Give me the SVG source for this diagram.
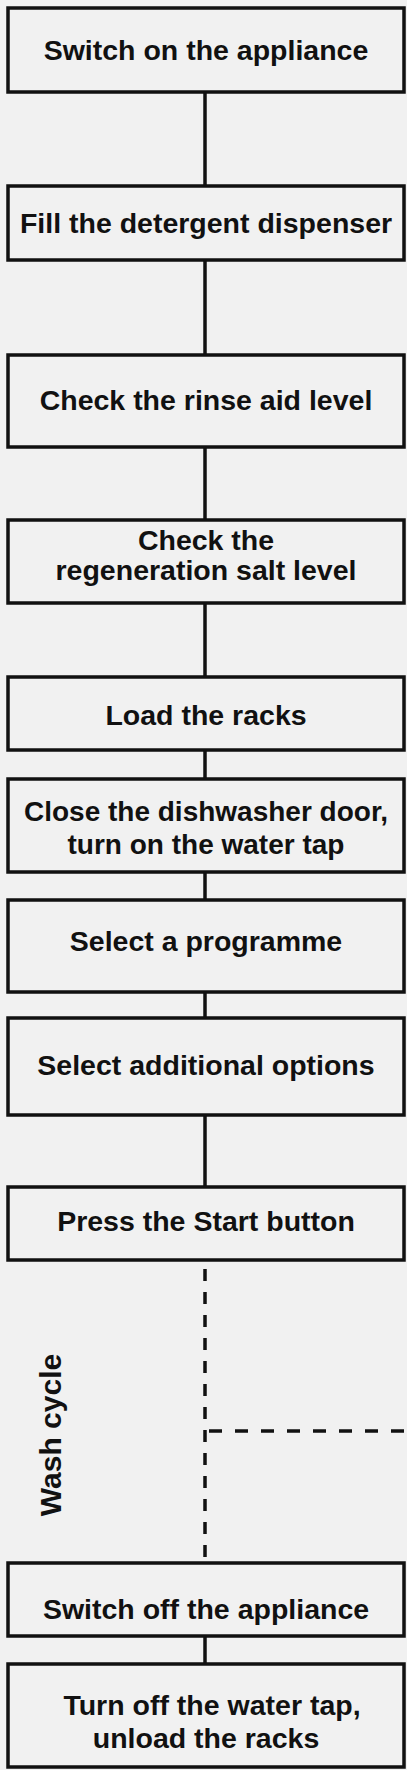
<svg xmlns="http://www.w3.org/2000/svg" width="407" height="1770" viewBox="0 0 407 1770">
<style>
.bg{fill:#f1f1f1}
.box{fill:#f1f1f1;stroke:#111;stroke-width:3.5}
.t{font-family:"Liberation Sans",Arial,sans-serif;font-weight:bold;font-size:28.5px;fill:#111;text-anchor:middle}
.c{stroke:#111;stroke-width:3.5;fill:none}
.d{stroke:#111;stroke-width:3.5;fill:none;stroke-dasharray:12 11}
</style>
<rect class="bg" x="0" y="0" width="407" height="1770"/>
<g id="connectors">
<line class="c" x1="205" y1="92" x2="205" y2="186"/>
<line class="c" x1="205" y1="260" x2="205" y2="355"/>
<line class="c" x1="205" y1="447" x2="205" y2="520"/>
<line class="c" x1="205" y1="603" x2="205" y2="677"/>
<line class="c" x1="205" y1="750" x2="205" y2="779"/>
<line class="c" x1="205" y1="872" x2="205" y2="900"/>
<line class="c" x1="205" y1="992" x2="205" y2="1018"/>
<line class="c" x1="205" y1="1115" x2="205" y2="1187"/>
<line class="d" x1="205" y1="1260" x2="205" y2="1562" stroke-dashoffset="14"/>
<line class="d" x1="205" y1="1431" x2="407" y2="1431" style="stroke-dasharray:13 13" stroke-dashoffset="-4"/>
<line class="c" x1="205" y1="1636" x2="205" y2="1664"/>
</g>
<g id="n1"><rect class="box" x="8" y="8" width="396" height="84"/><text class="t" x="206" y="60">Switch on the appliance</text></g>
<g id="n2"><rect class="box" x="8" y="186" width="396" height="74"/><text class="t" x="206" y="233">Fill the detergent dispenser</text></g>
<g id="n3"><rect class="box" x="8" y="355" width="396" height="92"/><text class="t" x="206" y="410">Check the rinse aid level</text></g>
<g id="n4"><rect class="box" x="8" y="520" width="396" height="83"/><text class="t" x="206" y="550">Check the</text><text class="t" x="206" y="580">regeneration salt level</text></g>
<g id="n5"><rect class="box" x="8" y="677" width="396" height="73"/><text class="t" x="206" y="725">Load the racks</text></g>
<g id="n6"><rect class="box" x="8" y="779" width="396" height="93"/><text class="t" x="206" y="821" style="font-size:28px">Close the dishwasher door,</text><text class="t" x="206" y="854" style="font-size:28px">turn on the water tap</text></g>
<g id="n7"><rect class="box" x="8" y="900" width="396" height="92"/><text class="t" x="206" y="951">Select a programme</text></g>
<g id="n8"><rect class="box" x="8" y="1018" width="396" height="97"/><text class="t" x="206" y="1075">Select additional options</text></g>
<g id="n9"><rect class="box" x="8" y="1187" width="396" height="73"/><text class="t" x="206" y="1231">Press the Start button</text></g>
<g id="wash"><text class="t" transform="translate(61 1435) rotate(-90)" x="0" y="0" style="font-size:30px">Wash cycle</text></g>
<g id="n10"><rect class="box" x="8" y="1563" width="396" height="73"/><text class="t" x="206" y="1619">Switch off the appliance</text></g>
<g id="n11"><rect class="box" x="8" y="1664" width="396" height="103"/><text class="t" x="212" y="1715">Turn off the water tap,</text><text class="t" x="206" y="1748">unload the racks</text></g>
</svg>
